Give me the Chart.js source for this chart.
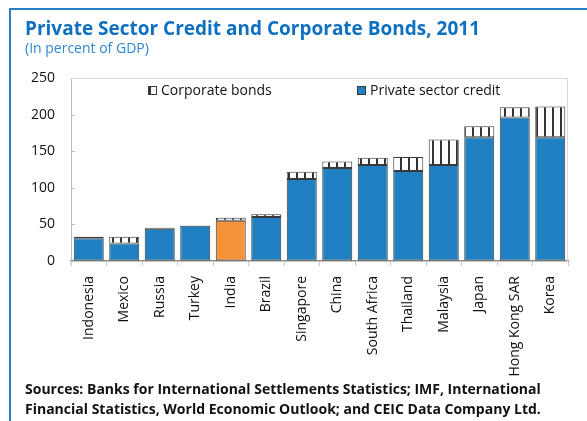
<!DOCTYPE html>
<html>
<head>
<meta charset="utf-8">
<script src="https://cdn.jsdelivr.net/npm/chart.js@4.4.1/dist/chart.umd.min.js"></script>
<style>
  html, body { margin: 0; padding: 0; background: #fff; }
  body { width: 587px; height: 421px; position: relative; overflow: hidden; font-family: "Open Sans", sans-serif; }
  .frame { position: absolute; left: 9px; top: 8px; width: 700px; height: 600px;
           border-left: 2px solid #2a7fc3; border-top: 2px solid #2a7fc3; }
  .title { position: absolute; left: 25px; top: 16px; margin: 0; font-size: 19px; line-height: 24px;
           font-weight: 700; color: #0f6fc0; white-space: nowrap; }
  .subtitle { position: absolute; left: 25px; top: 40px; font-size: 14px; line-height: 16px; color: #2f86d0; }
  .sources { position: absolute; left: 25px; top: 379px; font-size: 14px; line-height: 20px;
             font-weight: 700; color: #111; white-space: nowrap; }
  #box { position: absolute; left: 0; top: 0; width: 587px; height: 421px; }
</style>
</head>
<body>
<div class="frame"></div>
<div id="box"><canvas id="chart"></canvas></div>
<h1 class="title">Private Sector Credit and Corporate Bonds, 2011</h1>
<div class="subtitle">(In percent of GDP)</div>
<div class="sources">Sources: Banks for International Settlements Statistics; IMF, International<br>Financial Statistics, World Economic Outlook; and CEIC Data Company Ltd.</div>
<script>
const countries = ["Indonesia", "Mexico", "Russia", "Turkey", "India", "Brazil", "Singapore",
  "China", "South Africa", "Thailand", "Malaysia", "Japan", "Hong Kong SAR", "Korea"];
const privateCredit = [31, 24, 44, 48, 55, 60, 112, 127, 131, 123, 131, 169, 196, 169];
const corporateBonds = [2, 9, 1.5, 0.5, 4, 4, 10, 9, 10, 19, 35, 15, 14, 42];
const yTicks = [0, 50, 100, 150, 200, 250];
const highlighted = "India";

const BLUE = "#2180c2";
const ORANGE = "#f7943b";
const EDGE = "#3a3a3a";
const FONT = "'Open Sans', sans-serif";

const canvas = document.getElementById("chart");
const ctx = canvas.getContext("2d");

// white tile with a dark vertical stripe for the bond segments
function stripePattern() {
  const tile = document.createElement("canvas");
  tile.width = 8;
  tile.height = 8;
  const g = tile.getContext("2d");
  g.fillStyle = "#fff";
  g.fillRect(0, 0, 8, 8);
  g.fillStyle = "#333";
  g.fillRect(0, 0, 2, 8);
  return ctx.createPattern(tile, "repeat");
}
const bondFill = stripePattern();

// legend drawn inside the plot, plus the light frame and inward y ticks
const plotExtras = {
  id: "plotExtras",
  afterDraw(chart) {
    const { ctx, chartArea: a, scales } = chart;
    ctx.save();
    ctx.strokeStyle = "#d9d9d9";
    ctx.lineWidth = 1;
    ctx.beginPath();
    ctx.moveTo(a.left, a.top + 0.5);
    ctx.lineTo(a.right - 0.5, a.top + 0.5);
    ctx.lineTo(a.right - 0.5, a.bottom);
    ctx.stroke();

    ctx.strokeStyle = "#bdbdbd";
    ctx.beginPath();
    yTicks.slice(1, -1).forEach(v => {
      const y = Math.round(scales.y.getPixelForValue(v)) + 0.5;
      ctx.moveTo(a.left, y);
      ctx.lineTo(a.left + 4, y);
    });
    ctx.stroke();

    ctx.font = "14px " + FONT;
    ctx.textBaseline = "middle";
    const ly = a.top + 8;
    // Corporate bonds
    let bx = a.left + 77;
    ctx.fillStyle = "#fff";
    ctx.fillRect(bx, ly, 9, 9);
    ctx.fillStyle = "#333";
    ctx.fillRect(bx, ly, 3, 9);
    ctx.strokeStyle = EDGE;
    ctx.strokeRect(bx + 0.5, ly + 0.5, 8, 8);
    ctx.fillStyle = "#111";
    ctx.fillText(chart.data.datasets[1].label, bx + 13, ly + 5);
    // Private sector credit
    bx = a.left + 286;
    ctx.fillStyle = BLUE;
    ctx.fillRect(bx, ly, 9, 9);
    ctx.strokeRect(bx + 0.5, ly + 0.5, 8, 8);
    ctx.fillStyle = "#111";
    ctx.fillText(chart.data.datasets[0].label, bx + 13, ly + 5);
    ctx.restore();
  }
};

new Chart(canvas, {
  type: "bar",
  data: {
    labels: countries,
    datasets: [
      {
        label: "Private sector credit",
        data: privateCredit,
        backgroundColor: countries.map(c => c === highlighted ? ORANGE : BLUE),
        borderColor: EDGE,
        borderWidth: 1,
        borderSkipped: false,
        barPercentage: 0.845,
        categoryPercentage: 1
      },
      {
        label: "Corporate bonds",
        data: corporateBonds,
        backgroundColor: bondFill,
        borderColor: EDGE,
        borderWidth: 1,
        borderSkipped: false,
        barPercentage: 0.845,
        categoryPercentage: 1
      }
    ]
  },
  options: {
    responsive: true,
    maintainAspectRatio: false,
    animation: false,
    layout: { padding: { top: 78, right: 19, left: 0, bottom: 0 } },
    plugins: {
      legend: { display: false },
      tooltip: { enabled: false }
    },
    scales: {
      x: {
        stacked: true,
        grid: { drawOnChartArea: false, offset: true, tickLength: 5, color: "#c8c8c8" },
        border: { color: "#8c8c8c", width: 1.5 },
        ticks: {
          autoSkip: false, maxRotation: 90, minRotation: 90, padding: 10,
          color: "#111", font: { family: "Open Sans", size: 14 }
        },
        afterFit(scale) { scale.height = 160; }
      },
      y: {
        stacked: true,
        min: 0,
        max: 250,
        grid: { drawOnChartArea: false, drawTicks: false },
        border: { color: "#bdbdbd", width: 1 },
        ticks: { padding: 16, color: "#111", font: { family: "Open Sans", size: 14 } },
        afterBuildTicks(scale) { scale.ticks = yTicks.map(v => ({ value: v })); },
        afterFit(scale) { scale.width = 71; }
      }
    }
  },
  plugins: [plotExtras]
});
</script>
</body>
</html>
